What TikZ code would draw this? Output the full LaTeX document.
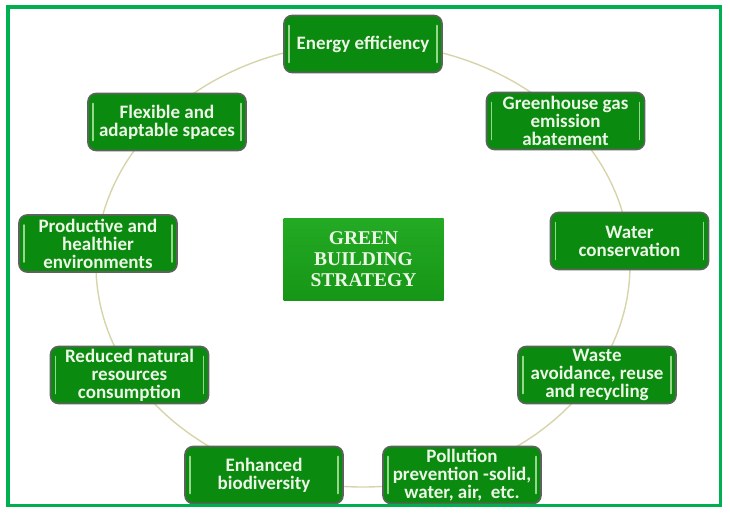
\documentclass[tikz,border=0pt]{standalone}
\usepackage{fontspec}
\newfontfamily\boxfont{Carlito}
\newfontfamily\titlefont{Liberation Serif}
\definecolor{framegreen}{RGB}{0,176,80}
\definecolor{boxgreen}{RGB}{10,138,14}
\definecolor{titletop}{RGB}{36,170,36}
\definecolor{titlebottom}{RGB}{22,150,22}
\definecolor{boxedge}{RGB}{90,100,90}
\definecolor{hilite}{RGB}{150,215,140}
\definecolor{ringline}{RGB}{215,212,170}
\definecolor{lighttext}{RGB}{236,246,230}
\tikzset{
  aimbox/.style={draw=boxedge, line width=1.6pt, fill=boxgreen, rounded corners=8pt,
    minimum width=158pt, minimum height=57pt, inner sep=0pt, align=center,
    text=lighttext, font=\boxfont\bfseries\fontsize{19}{18}\selectfont,
    path picture={
      \draw[hilite, line width=1.6pt, line cap=round]
        ([xshift=5pt,yshift=-10pt]path picture bounding box.north west) --
        ([xshift=5pt,yshift=10pt]path picture bounding box.south west);
      \draw[hilite, line width=1.6pt, line cap=round]
        ([xshift=-5pt,yshift=-10pt]path picture bounding box.north east) --
        ([xshift=-5pt,yshift=10pt]path picture bounding box.south east);
    }},
  titlebox/.style={top color=titletop, bottom color=titlebottom,
    minimum width=160pt, minimum height=82pt, inner sep=0pt, align=center,
    text=lighttext, font=\titlefont\bfseries\fontsize{19.5}{21}\selectfont}
}
\begin{document}
\begin{tikzpicture}[x=1pt, y=-1pt]
    \useasboundingbox (0,0) rectangle (730,512);

    % Ring behind the boxes
    \coordinate (ring) at (363,265);
    \draw[ringline, line width=1.4pt] (ring) ellipse [x radius=267, y radius=222];

    % Centre
    \node[titlebox] (centre) at (363.5,259) {GREEN\\BUILDING\\STRATEGY};

    % Aims round the ring
    \node[aimbox] (energy) at (363,44) {Energy efficiency};
    \node[aimbox] (ghg) at (565.5,121) {Greenhouse gas\\emission\\abatement};
    \node[aimbox] (water) at (629.5,241) {Water\\conservation};
    \node[aimbox] (waste) at (597,375) {Waste\\avoidance, reuse\\and recycling};
    \node[aimbox] (pollution) at (462,475) {Pollution\\prevention -solid,\\water, air,\ \ etc.};
    \node[aimbox] (biodiv) at (264,475) {Enhanced\\biodiversity};
    \node[aimbox] (resources) at (129.5,375) {Reduced natural\\resources\\consumption};
    \node[aimbox] (productive) at (98,243.5) {Productive and\\healthier\\environments};
    \node[aimbox] (flexible) at (167,122) {Flexible and\\adaptable spaces};

    % Frame
    \draw[framegreen, line width=3.5pt] (8,7) rectangle (720.5,505.5);
\end{tikzpicture}
\end{document}
